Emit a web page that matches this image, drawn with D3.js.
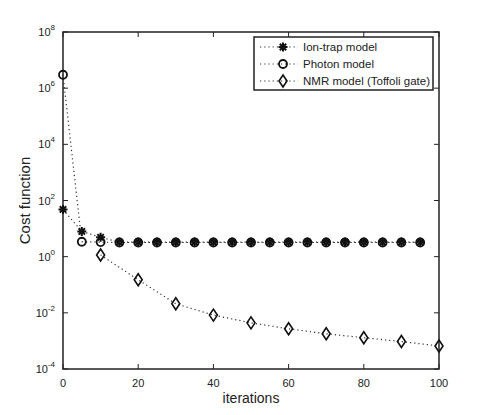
<!DOCTYPE html>
<html>
<head>
<meta charset="utf-8">
<script src="https://cdn.jsdelivr.net/npm/d3@7"></script>
<style>
  body { margin: 0; background: #fff; }
  text { font-family: "Liberation Sans", Arial, sans-serif; fill: #222; }
</style>
</head>
<body>
<div id="chart"></div>
<script>
// iterations for each series
var ionX = [0, 5, 10, 15, 20, 25, 30, 35, 40, 45, 50, 55, 60, 65, 70, 75, 80, 85, 90, 95];
var ionY = [48, 7.9, 4.9, 3.3, 3.3, 3.3, 3.3, 3.3, 3.3, 3.3, 3.3, 3.3, 3.3, 3.3, 3.3, 3.3, 3.3, 3.3, 3.3, 3.3];
var photonX = [0, 5, 10, 15, 20, 25, 30, 35, 40, 45, 50, 55, 60, 65, 70, 75, 80, 85, 90, 95];
var photonY = [3e6, 3.4, 3.3, 3.2, 3.2, 3.2, 3.2, 3.2, 3.2, 3.2, 3.2, 3.2, 3.2, 3.2, 3.2, 3.2, 3.2, 3.2, 3.2, 3.2];
var nmrX = [10, 20, 30, 40, 50, 60, 70, 80, 90, 100];
var nmrY = [1.15, 0.15, 0.021, 0.0083, 0.0044, 0.0027, 0.0018, 0.0013, 0.00095, 0.00066];
var seriesNames = ["Ion-trap model", "Photon model", "NMR model (Toffoli gate)"];
var xTicks = [0, 20, 40, 60, 80, 100];
var yExps = [8, 6, 4, 2, 0, -2, -4];

var width = 485, height = 415;
var margin = {left: 63, top: 32, right: 46, bottom: 46};
var w = width - margin.left - margin.right;
var h = height - margin.top - margin.bottom;

var svg = d3.select("#chart").append("svg")
    .attr("width", width)
    .attr("height", height);

var g = svg.append("g")
    .attr("transform", "translate(" + margin.left + "," + margin.top + ")");

var x = d3.scaleLinear().domain([0, 100]).range([0, w]);
var y = d3.scaleLog().domain([1e-4, 1e8]).range([h, 0]);

// frame
g.append("rect")
    .attr("width", w).attr("height", h)
    .attr("fill", "none").attr("stroke", "#222").attr("stroke-width", 1.5);

// ticks pointing inward, on all four sides
var tk = 5;
xTicks.forEach(function(t) {
    g.append("line").attr("x1", x(t)).attr("x2", x(t)).attr("y1", h).attr("y2", h - tk)
        .attr("stroke", "#222");
    g.append("line").attr("x1", x(t)).attr("x2", x(t)).attr("y1", 0).attr("y2", tk)
        .attr("stroke", "#222");
    g.append("text").attr("x", x(t)).attr("y", h + 18)
        .attr("text-anchor", "middle").attr("font-size", 11).attr("fill", "#333").text(t);
});
yExps.forEach(function(e) {
    var yy = y(Math.pow(10, e));
    g.append("line").attr("x1", 0).attr("x2", tk).attr("y1", yy).attr("y2", yy).attr("stroke", "#222");
    g.append("line").attr("x1", w).attr("x2", w - tk).attr("y1", yy).attr("y2", yy).attr("stroke", "#222");
    var t = g.append("text").attr("x", -8).attr("y", yy + 4)
        .attr("text-anchor", "end").attr("font-size", 11).attr("fill", "#333");
    t.append("tspan").text("10");
    t.append("tspan").attr("dy", -6).attr("font-size", 8).text(e);
});

// axis labels
svg.append("text")
    .attr("x", margin.left + w / 2).attr("y", 403)
    .attr("text-anchor", "middle").attr("font-size", 14).text("iterations");
svg.append("text")
    .attr("transform", "translate(30," + (margin.top + h / 2) + ") rotate(-90)")
    .attr("text-anchor", "middle").attr("font-size", 15).text("Cost function");

var line = d3.line()
    .x(function(d) { return x(d[0]); })
    .y(function(d) { return y(d[1]); });

function pairs(xs, ys) { return xs.map(function(v, i) { return [v, ys[i]]; }); }

var series = [
    {data: pairs(ionX, ionY), sym: "star"},
    {data: pairs(photonX, photonY), sym: "circle"},
    {data: pairs(nmrX, nmrY), sym: "diamond"}
];

function drawMarker(sel, sym, cx, cy) {
    if (sym == "circle") {
        sel.append("circle").attr("cx", cx).attr("cy", cy).attr("r", 4)
            .attr("fill", "none").attr("stroke", "#111").attr("stroke-width", 1.8);
    } else if (sym == "diamond") {
        sel.append("path")
            .attr("d", "M" + cx + "," + (cy - 6) + "L" + (cx + 4) + "," + cy + "L" + cx + "," + (cy + 6) + "L" + (cx - 4) + "," + cy + "Z")
            .attr("fill", "none").attr("stroke", "#111").attr("stroke-width", 1.6);
    } else {
        var r = 4.5, p = "";
        for (var k = 0; k < 4; k++) {
            var a = k * Math.PI / 4;
            p += "M" + (cx - r * Math.cos(a)) + "," + (cy - r * Math.sin(a)) +
                 "L" + (cx + r * Math.cos(a)) + "," + (cy + r * Math.sin(a));
        }
        sel.append("path").attr("d", p).attr("stroke", "#111").attr("stroke-width", 2);
    }
}

series.forEach(function(s) {
    g.append("path").datum(s.data)
        .attr("d", line)
        .attr("fill", "none").attr("stroke", "#333")
        .attr("stroke-width", 1.2).attr("stroke-dasharray", "1.2,3");
    s.data.forEach(function(d) { drawMarker(g, s.sym, x(d[0]), y(d[1])); });
});

// legend
var lg = svg.append("g").attr("transform", "translate(254,37)");
lg.append("rect").attr("width", 179).attr("height", 53)
    .attr("fill", "#fff").attr("stroke", "#222").attr("stroke-width", 1.5);
series.forEach(function(s, i) {
    var ly = 10 + i * 17;
    lg.append("line").attr("x1", 6).attr("x2", 44).attr("y1", ly).attr("y2", ly)
        .attr("stroke", "#333").attr("stroke-width", 1.2).attr("stroke-dasharray", "1.2,3");
    drawMarker(lg, s.sym, 29, ly);
    lg.append("text").attr("x", 49).attr("y", ly + 4)
        .attr("font-size", 11.5).text(seriesNames[i]);
});
</script>
</body>
</html>
